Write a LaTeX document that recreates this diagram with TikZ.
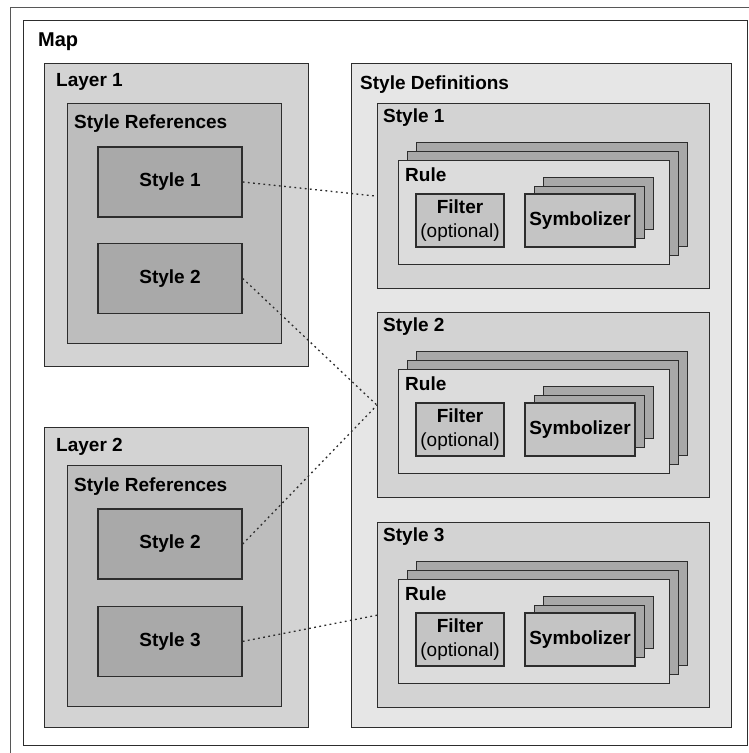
\documentclass[tikz,border=0pt]{standalone}
\usepackage{fontspec}
\setmainfont{Liberation Sans}
\usetikzlibrary{positioning}
\definecolor{edgegray}{RGB}{45, 45, 45}
\definecolor{layerfill}{RGB}{211, 211, 211}
\definecolor{reffill}{RGB}{189, 189, 189}
\definecolor{stylefill}{RGB}{169, 169, 169}
\definecolor{deffill}{RGB}{230, 230, 230}
\definecolor{rulefill}{RGB}{220, 220, 220}
\definecolor{backfill}{RGB}{168, 168, 168}
\definecolor{filterfill}{RGB}{196, 196, 196}

\begin{document}
\begin{tikzpicture}[
  x=1pt, y=-1pt,
  every node/.style={font=\fontsize{19}{24}\selectfont},
  panel/.style={rectangle, draw=edgegray, line width=1.4pt, anchor=north west, inner sep=0pt},
  layerbox/.style={panel, fill=layerfill},
  refsbox/.style={panel, fill=reffill},
  refbox/.style={panel, fill=stylefill, minimum width=144pt, minimum height=70pt, anchor=center, font=\fontsize{19}{24}\selectfont\bfseries},
  defbox/.style={panel, fill=layerfill, minimum width=332pt, minimum height=185pt},
  rulebox/.style={panel, fill=rulefill, minimum width=271pt, minimum height=104pt},
  backbox/.style={panel, fill=backfill},
  filterbox/.style={panel, fill=filterfill, minimum width=88pt, minimum height=53pt, align=center, anchor=center},
  symbbox/.style={panel, fill=filterfill, minimum width=110pt, minimum height=53pt, anchor=center, font=\fontsize{19}{24}\selectfont\bfseries},
  title/.style={anchor=west, inner sep=0pt, font=\fontsize{19}{24}\selectfont\bfseries},
  link/.style={draw=edgegray, line width=1.3pt, dash pattern=on 1.8pt off 3.4pt}
]

  \useasboundingbox (0,0) rectangle (748,753);
  \draw[edgegray!80, line width=1pt] (10,7) rectangle (770,775);

  % map and layers
  \node[panel, fill=white, minimum width=724pt, minimum height=725pt] (map) at (23,20) {};
  \node[title, font=\fontsize{20}{24}\selectfont\bfseries] (maplbl) at (38,42) {Map};

  \node[layerbox, minimum width=264pt, minimum height=303pt] (layer1) at (44,63) {};
  \node[title] (layer1lbl) at (56,82) {Layer 1};
  \node[refsbox, minimum width=214pt, minimum height=240pt] (refs1) at (67,103) {};
  \node[title] (refs1lbl) at (74,124) {Style References};
  \node[refbox] (refA) at (170,182) {Style 1};
  \node[refbox, below=25pt of refA] (refB) {Style 2};

  \node[layerbox, minimum width=264pt, minimum height=300pt] (layer2) at (44,427) {};
  \node[title] (layer2lbl) at (56,447) {Layer 2};
  \node[refsbox, minimum width=214pt, minimum height=241pt] (refs2) at (67,465) {};
  \node[title] (refs2lbl) at (74,487) {Style References};
  \node[refbox] (refC) at (170,544) {Style 2};
  \node[refbox, below=26pt of refC] (refD) {Style 3};

  % style definitions
  \node[panel, fill=deffill, minimum width=380pt, minimum height=664pt] (defs) at (351,63) {};
  \node[title] (defslbl) at (360,85) {Style Definitions};

  \foreach \k/\t in {1/103, 2/312, 3/522} {
    \node[defbox] (def\k) at (377,\t) {};
    \node[title] (def\k lbl) at (383,\t+15) {Style \k};
    \node[backbox, minimum width=271pt, minimum height=104pt] (rule\k c) at (416,\t+39) {};
    \node[backbox, minimum width=271pt, minimum height=104pt] (rule\k b) at (407,\t+48) {};
    \node[rulebox] (rule\k) at (398,\t+57) {};
    \node[title] (rule\k lbl) at (405,\t+72) {Rule};
    \node[filterbox] (filter\k) at (460,\t+117.5) {\textbf{Filter}\\(optional)};
    \node[backbox, minimum width=110pt, minimum height=52pt] (symb\k c) at (543,\t+74) {};
    \node[backbox, minimum width=110pt, minimum height=52pt] (symb\k b) at (534,\t+83) {};
    \node[symbbox] (symb\k) at (580,\t+117.5) {Symbolizer};
  }

  % references to definitions
  \draw[link] (refA.east) -- (def1.west);
  \draw[link] (refB.east) -- (def2.west);
  \draw[link] (refC.east) -- (def2.west);
  \draw[link] (refD.east) -- (def3.west);

\end{tikzpicture}
\end{document}
